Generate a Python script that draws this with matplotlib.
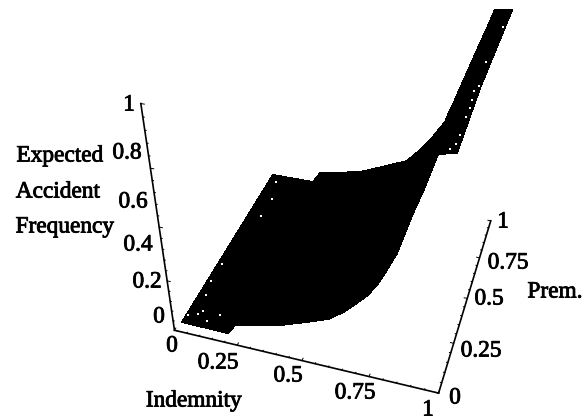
import numpy as np
import matplotlib
matplotlib.use("Agg")
import matplotlib.pyplot as plt
import matplotlib.patheffects as pe

plt.rcParams['font.family'] = ['Liberation Serif', 'DejaVu Serif']

# surface edges: low premium side
near_ind = [0.009, 0.195, 0.204, 0.364, 0.45, 0.531, 0.58, 0.618, 0.648, 0.671, 0.69, 0.707, 0.717, 0.727, 0.75,
            0.770, 0.772, 0.852, 0.915, 0.992]
near_prem = [0.048, 0.047, 0.094, 0.145, 0.178, 0.211, 0.25, 0.297, 0.335, 0.384, 0.46, 0.542, 0.62, 0.706, 0.80,
             0.903, 0.910, 0.884, 0.904, 0.981]
near_freq = [0, 0, 0, 0, 0.01, 0.02, 0.035, 0.05, 0.065, 0.08, 0.10, 0.12, 0.16, 0.2, 0.27,
             0.35, 0.36, 0.4, 0.7, 1]
# high premium side
far_ind = [0.021, 0.209, 0.243, 0.424, 0.525, 0.627, 0.653, 0.680, 0.705, 0.730, 0.752, 0.775, 0.79, 0.808, 0.824,
           0.840, 0.855, 0.885, 0.906, 0.928]
far_prem = [1] * 20
far_freq = [0.023, 0.026, 0.083, 0.129, 0.18, 0.232, 0.266, 0.300, 0.338, 0.376, 0.417, 0.458, 0.513, 0.569, 0.625,
            0.680, 0.732, 0.833, 0.903, 0.981]

# white gaps in the mesh
speck_ind = [0.055, 0.065, 0.135, 0.04, 0.03, 0.03, 0.02, 0.10, 0.05, 0.075, 0.075,
             0.915, 0.963, 0.898, 0.88, 0.873, 0.868, 0.858, 0.84, 0.825, 0.805]
speck_prem = [0.095, 0.12, 0.115, 0.2, 0.39, 0.28, 0.08, 0.07, 0.96, 0.84, 0.71,
              1, 1, 1, 1, 1, 1, 1, 1, 1, 1]
speck_freq = [0.01, 0.01, 0.01, 0.01, 0.01, 0.01, 0.01, 0.01, 0.02, 0.02, 0.02,
              0.758, 0.915, 0.65, 0.623, 0.58, 0.545, 0.5, 0.41, 0.36, 0.33]

ind_labels = ['0', '0.25', '0.5', '0.75', '1']
prem_labels = ['0', '0.25', '0.5', '0.75', '1']
freq_labels = ['0', '0.2', '0.4', '0.6', '0.8', '1']

WIDTH, HEIGHT = 584, 419
fig = plt.figure(figsize=(WIDTH / 100, HEIGHT / 100), dpi=100)

# square 3d axes, size and place come from fitting the box corners
side = 455.8
ax = fig.add_axes([108.57 / WIDTH, 13.76 / HEIGHT, side / WIDTH, side / HEIGHT],
                  projection='3d', computed_zorder=False)
ax.set_xlim(0, 1)
ax.set_ylim(0, 1)
ax.set_zlim(0, 1)
ax.view_init(36.742, -72.453, 0.145)
ax.set_proj_type('persp', focal_length=0.398)
ax.set_box_aspect((1, 0.976, 0.996))
ax.set_axis_off()

X = np.array([near_ind, far_ind])
Y = np.array([near_prem, far_prem])
Z = np.array([near_freq, far_freq])
ax.plot_surface(X, Y, Z, color='k', shade=False, linewidth=0.6, edgecolor='k',
                antialiased=False, rstride=1, cstride=1, zorder=2)
ax.scatter(speck_ind, speck_prem, speck_freq, c='w', s=2, marker='s', linewidths=0,
           depthshade=False, zorder=3)

# the three drawn axes
lw = 1.2
ax.plot([0, 1], [0, 0], [0, 0], color='k', lw=lw, zorder=1)
ax.plot([1, 1], [0, 1], [0, 0], color='k', lw=lw, zorder=1)
ax.plot([0, 0], [0, 0], [0, 1], color='k', lw=lw, zorder=1)

for i in np.arange(0, 1.001, 0.05):
    major = round(i * 4) == i * 4
    t = 0.012 if major else 0.005
    ax.plot([i, i], [0, t], [0, 0], color='k', lw=0.7, zorder=1)
    ax.plot([1, 1 - t], [i, i], [0, 0], color='k', lw=0.7, zorder=1)
    ax.plot([0, t], [0, 0], [i, i], color='k', lw=0.7, zorder=1)


def label(px, py, s):
    t = fig.text(px / WIDTH, 1 - py / HEIGHT, s, ha='center', va='center', fontsize=16.8, color='k')
    t.set_path_effects([pe.withStroke(linewidth=0.6, foreground='k')])


ind_pos = [(172, 346), (218, 363), (288, 376), (355, 393), (428, 410)]
prem_pos = [(455, 398), (481, 351), (489, 299), (508, 263), (503, 222)]
freq_pos = [(159, 317), (147, 282), (138, 245), (133, 202), (127, 153), (129, 105)]
for (a, b), s in zip(ind_pos, ind_labels):
    label(a, b, s)
for (a, b), s in zip(prem_pos, prem_labels):
    label(a, b, s)
for (a, b), s in zip(freq_pos, freq_labels):
    label(a, b, s)

label(194, 401, 'Indemnity')
label(555, 292, 'Prem.')
label(60, 156, 'Expected')
label(58, 192, 'Accident')
label(65, 227, 'Frequency')

fig.savefig('out.png', dpi=100)
